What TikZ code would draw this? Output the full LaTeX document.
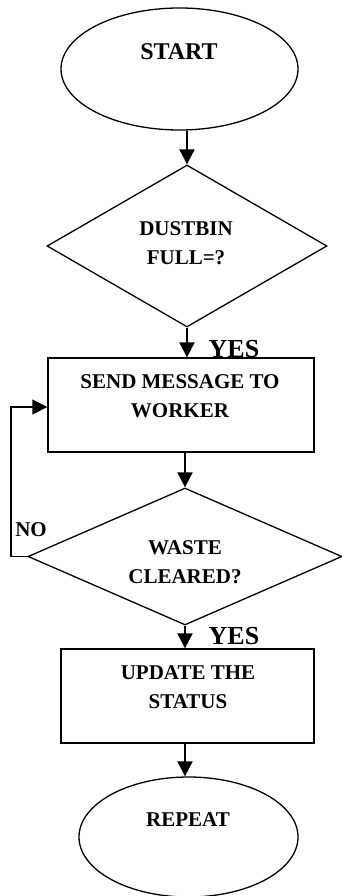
\documentclass[tikz,border=0pt]{standalone}
\usepackage{fontspec}
\setmainfont{Liberation Serif}
\usetikzlibrary{arrows.meta,shapes.geometric}
\begin{document}
\begin{tikzpicture}[x=1pt,y=1pt,
  shapeline/.style={draw=black,line width=1.3pt,inner sep=0pt},
  term/.style={shapeline,ellipse},
  proc/.style={shapeline,rectangle},
  dec/.style={shapeline,diamond},
  lbl/.style={font=\fontsize{21}{28.5}\selectfont\bfseries,align=center,inner sep=0pt},
  ans/.style={font=\fontsize{26}{30}\selectfont\bfseries,inner sep=0pt},
  arr/.style={line width=2pt,-{Triangle[width=15pt,length=15pt]}},
  fbline/.style={line width=1.3pt,-{Triangle[width=15pt,length=15pt]}}]
\useasboundingbox (0,0) rectangle (342,-896);
% shapes
\node[term,minimum width=237,minimum height=122] (start) at (179.5,-69) {};
\node[dec,minimum width=280,minimum height=162] (d1) at (187,-246) {};
\node[proc,minimum width=266,minimum height=94] (r1) at (181,-405) {};
\node[dec,minimum width=314,minimum height=137] (d2) at (185,-556.5) {};
\node[proc,minimum width=253,minimum height=94] (r2) at (187.5,-696) {};
\node[term,minimum width=219,minimum height=120] (rep) at (188.5,-837) {};
% texts
\node[lbl,font=\fontsize{24}{28}\selectfont\bfseries] (tstart) at (179,-52) {START};
\node[lbl] (td1) at (186,-243) {DUSTBIN\\FULL=?};
\node[lbl] (tr1) at (180,-396) {SEND MESSAGE TO\\WORKER};
\node[lbl] (td2) at (185,-562) {WASTE\\CLEARED?};
\node[lbl] (tr2) at (188,-687) {UPDATE THE\\STATUS};
\node[lbl] (trep) at (188,-820) {REPEAT};
\node[ans] (yes1) at (234,-349) {YES};
\node[ans] (yes2) at (234,-636) {YES};
\node[lbl] (no) at (31,-530) {NO};
% connectors
\draw[arr] (start.south -| d1.north) -- (d1.north);
\draw[arr] (d1.south) -- (d1.south |- r1.north);
\draw[arr] (r1.south -| d2.north) -- (d2.north);
\draw[arr] (d2.south) -- (d2.south |- r2.north);
\draw[arr] (r2.south -| d2.south) -- (rep.north -| d2.south);
\coordinate (fb) at (11,-407);
\draw[fbline] (d2.west) -- (d2.west -| fb) -- (fb) -- (fb -| r1.west);
\end{tikzpicture}
\end{document}
